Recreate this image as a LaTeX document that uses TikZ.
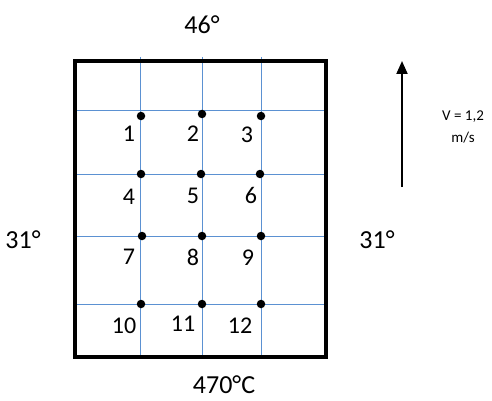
\documentclass[tikz,border=0pt]{standalone}
\usepackage{fontspec}
\setmainfont{Carlito}
\usetikzlibrary{arrows.meta}
\definecolor{gridblue}{RGB}{91,145,210}
\begin{document}
\begin{tikzpicture}[x=1pt,y=-1pt,
  dot/.style={circle,fill=black,inner sep=0pt,minimum size=8.5pt},
  num/.style={font=\fontsize{24}{24}\selectfont,inner sep=0pt},
  big/.style={font=\fontsize{26}{26}\selectfont,inner sep=0pt},
  gline/.style={draw=gridblue,line width=1pt}]
\useasboundingbox (0,0) rectangle (492,401);
% grid lines
\foreach \x in {140,202,261} \draw[gline] (\x,57) -- (\x,357);
\foreach \y in {111,174,236,304} \draw[gline] (76,\y) -- (326,\y);
% frame
\node[draw,line width=3.2pt,minimum width=251pt,minimum height=296pt,inner sep=0pt] (frame) at (200.5,209) {};
% dots
\node[dot] (d1) at (141,116) {};
\node[dot] (d2) at (202,114) {};
\node[dot] (d3) at (261,116) {};
\node[dot] (d4) at (141,174) {};
\node[dot] (d5) at (201,174) {};
\node[dot] (d6) at (260,174) {};
\node[dot] (d7) at (142,236) {};
\node[dot] (d8) at (202,236) {};
\node[dot] (d9) at (261,236) {};
\node[dot] (d10) at (141,304) {};
\node[dot] (d11) at (202,304) {};
\node[dot] (d12) at (261,304) {};
% labels
\node[num] (l1) at (129,134) {1};
\node[num] (l2) at (193,134) {2};
\node[num] (l3) at (247,135) {3};
\node[num] (l4) at (129,197) {4};
\node[num] (l5) at (193,196) {5};
\node[num] (l6) at (251,195) {6};
\node[num] (l7) at (129,257) {7};
\node[num] (l8) at (193,257) {8};
\node[num] (l9) at (248,258) {9};
\node[num] (l10) at (124,326) {10};
\node[num] (l11) at (183,324) {11};
\node[num] (l12) at (240,326) {12};
% outside labels
\node[big] (top) at (202,25) {46°};
\node[big] (left) at (23,240) {31°};
\node[big] (right) at (377,240) {31°};
\node[big] (bottom) at (224,385) {470°C};
% velocity
\coordinate (vs) at (402,187);
\coordinate (ve) at (402,61);
\draw[line width=2pt,-{Triangle[length=13pt,width=11pt]}] (vs) -- (ve);
\node[font=\fontsize{15}{15}\selectfont,inner sep=0pt] (v1) at (463,117) {V = 1,2};
\node[font=\fontsize{15}{15}\selectfont,inner sep=0pt] (v2) at (463,138) {m/s};
\end{tikzpicture}
\end{document}
